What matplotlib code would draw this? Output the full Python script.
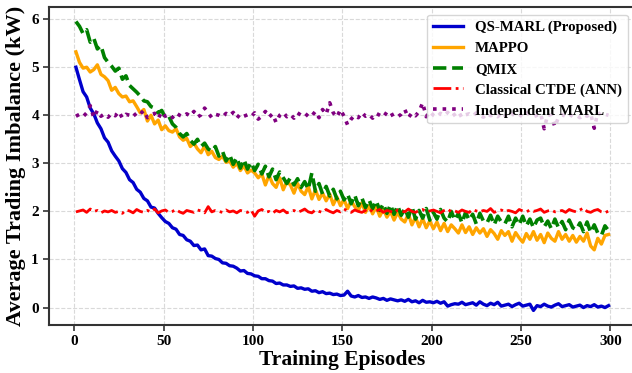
"""Average trading imbalance vs training episodes for five MARL variants."""
import matplotlib

matplotlib.use("Agg")
import matplotlib.pyplot as plt  # noqa: E402
import numpy as np  # noqa: E402

EPISODES = np.arange(1, 301, 2)

QS_MARL = [
    5.00, 4.74, 4.49, 4.38, 4.15, 4.03, 3.84, 3.72, 3.53, 3.44,
    3.26, 3.15, 3.05, 2.89, 2.81, 2.66, 2.60, 2.46, 2.40, 2.27,
    2.22, 2.09, 2.07, 1.96, 1.87, 1.79, 1.75, 1.66, 1.63, 1.52,
    1.50, 1.41, 1.38, 1.29, 1.30, 1.20, 1.22, 1.08, 1.07, 1.02,
    1.00, 0.93, 0.92, 0.87, 0.86, 0.82, 0.76, 0.77, 0.71, 0.70,
    0.66, 0.65, 0.60, 0.60, 0.56, 0.55, 0.50, 0.51, 0.47, 0.47,
    0.44, 0.45, 0.40, 0.41, 0.38, 0.39, 0.34, 0.35, 0.31, 0.33,
    0.29, 0.30, 0.27, 0.28, 0.25, 0.26, 0.34, 0.24, 0.22, 0.25,
    0.21, 0.22, 0.19, 0.22, 0.20, 0.17, 0.19, 0.15, 0.18, 0.16,
    0.14, 0.16, 0.13, 0.17, 0.12, 0.14, 0.10, 0.15, 0.11, 0.12,
    0.10, 0.13, 0.09, 0.12, 0.03, 0.06, 0.08, 0.07, 0.11, 0.06,
    0.08, 0.10, 0.05, 0.12, 0.07, 0.04, 0.09, 0.06, 0.11, 0.03,
    0.05, 0.07, 0.02, 0.06, 0.09, 0.03, 0.05, 0.07, -0.06, 0.04,
    0.02, 0.07, 0.03, 0.01, 0.05, 0.08, 0.02, 0.04, 0.06, 0.01,
    0.03, 0.05, 0.00, 0.04, 0.02, 0.06, 0.01, 0.03, 0.00, 0.04,
]
MAPPO = [
    5.32, 5.10, 4.98, 5.00, 4.90, 4.95, 5.05, 4.85, 4.80, 4.72,
    4.52, 4.58, 4.45, 4.38, 4.40, 4.28, 4.30, 4.18, 4.05, 4.12,
    3.88, 4.00, 3.82, 3.90, 3.70, 3.78, 3.68, 3.65, 3.72, 3.55,
    3.48, 3.52, 3.35, 3.42, 3.30, 3.22, 3.36, 3.18, 3.25, 3.12,
    3.08, 3.15, 3.02, 3.05, 2.92, 3.00, 2.85, 2.95, 2.80, 2.86,
    2.80, 2.70, 2.78, 2.55, 2.75, 2.58, 2.50, 2.70, 2.45, 2.62,
    2.55, 2.38, 2.58, 2.42, 2.35, 2.52, 2.26, 2.45, 2.25, 2.38,
    2.22, 2.36, 2.14, 2.30, 2.12, 2.25, 2.06, 2.22, 2.10, 2.02,
    2.18, 1.98, 2.12, 1.95, 2.10, 1.90, 2.05, 1.88, 2.00, 1.82,
    1.98, 1.84, 1.78, 1.95, 1.72, 1.88, 1.68, 1.85, 1.66, 1.80,
    1.64, 1.78, 1.60, 1.75, 1.58, 1.72, 1.64, 1.55, 1.72, 1.56,
    1.68, 1.52, 1.66, 1.55, 1.64, 1.48, 1.62, 1.54, 1.42, 1.60,
    1.50, 1.58, 1.38, 1.56, 1.45, 1.36, 1.54, 1.42, 1.58, 1.40,
    1.52, 1.35, 1.55, 1.44, 1.38, 1.58, 1.42, 1.52, 1.38, 1.50,
    1.36, 1.48, 1.38, 1.55, 1.28, 1.20, 1.44, 1.32, 1.50, 1.52,
]
QMIX = [
    5.95, 5.85, 5.70, 5.78, 5.52, 5.60, 5.38, 5.45, 5.20, 5.10,
    5.02, 4.92, 4.98, 4.75, 4.82, 4.62, 4.55, 4.48, 4.40, 4.30,
    4.28, 4.18, 4.15, 4.05, 4.10, 3.95, 3.98, 3.82, 3.75, 3.62,
    3.55, 3.62, 3.48, 3.40, 3.50, 3.35, 3.42, 3.30, 3.25, 3.35,
    3.15, 3.25, 3.05, 3.18, 2.98, 3.12, 2.90, 3.08, 2.88, 3.02,
    2.85, 2.98, 2.78, 2.94, 2.72, 2.88, 2.66, 2.82, 2.70, 2.58,
    2.70, 2.55, 2.68, 2.50, 2.62, 2.46, 2.80, 2.42, 2.58, 2.36,
    2.52, 2.32, 2.46, 2.26, 2.42, 2.24, 2.36, 2.16, 2.34, 2.12,
    2.28, 2.08, 2.24, 2.06, 2.22, 2.02, 2.16, 1.96, 2.14, 1.94,
    2.12, 1.92, 2.06, 1.88, 2.10, 1.84, 2.02, 1.86, 2.06, 1.82,
    1.98, 1.84, 2.04, 1.86, 1.78, 2.00, 1.82, 1.96, 1.76, 1.98,
    1.82, 1.94, 1.74, 1.96, 1.80, 1.76, 1.92, 1.72, 1.90, 1.78,
    1.74, 1.90, 1.68, 1.86, 1.72, 1.90, 1.70, 1.84, 1.66, 1.82,
    1.86, 1.68, 1.80, 1.64, 1.84, 1.66, 1.79, 1.62, 1.82, 1.66,
    1.62, 1.76, 1.58, 1.78, 1.56, 1.72, 1.55, 1.50, 1.70, 1.60,
]
CTDE_ANN = [
    1.99, 2.01, 2.03, 1.98, 2.05, 2.00, 2.02, 1.97, 2.01, 1.99,
    2.02, 1.98, 2.00, 1.96, 2.03, 2.01, 1.97, 2.04, 2.00, 1.98,
    2.02, 1.99, 2.05, 1.97, 2.01, 2.03, 1.98, 2.00, 2.04, 1.99,
    1.96, 2.02, 2.00, 1.98, 2.03, 2.01, 1.97, 2.10, 1.99, 2.02,
    2.00, 1.98, 2.03, 1.99, 2.01, 1.97, 2.02, 2.00, 1.98, 2.03,
    1.90, 2.01, 2.04, 1.98, 2.00, 1.96, 2.02, 1.99, 2.03, 1.97,
    2.00, 2.02, 1.98, 2.01, 2.05, 1.99, 1.97, 2.03, 2.00, 1.98,
    2.04, 2.00, 1.97, 2.02, 1.99, 2.05, 2.01, 1.98, 2.03, 2.00,
    1.98, 2.02, 2.06, 1.99, 2.01, 2.04, 1.98, 2.02, 2.00, 1.97,
    2.03, 2.01, 1.99, 2.05, 2.00, 1.98, 2.02, 2.04, 1.99, 2.01,
    2.03, 2.00, 1.97, 2.02, 2.05, 1.99, 2.01, 1.98, 2.03, 2.00,
    1.98, 2.04, 2.01, 1.99, 2.02, 2.00, 2.06, 1.98, 2.01, 2.03,
    1.99, 2.02, 2.00, 1.97, 2.04, 2.01, 1.99, 2.03, 2.00, 2.02,
    2.05, 1.98, 2.01, 2.03, 1.99, 2.00, 2.02, 1.98, 2.04, 2.01,
    1.99, 2.03, 2.07, 2.00, 1.98, 2.02, 2.04, 1.99, 1.97, 2.01,
]
INDEP_MARL = [
    3.98, 4.02, 3.97, 4.05, 4.20, 3.95, 4.10, 3.98, 4.03, 3.96,
    4.04, 3.99, 4.08, 3.94, 4.02, 4.00, 4.06, 3.97, 4.03, 4.10,
    3.95, 4.00, 4.04, 3.93, 4.07, 3.98, 4.02, 3.95, 4.05, 4.00,
    3.97, 4.03, 3.98, 4.08, 3.96, 4.01, 4.15, 4.05, 3.95, 4.02,
    4.00, 3.96, 4.04, 3.99, 4.06, 3.94, 4.03, 3.98, 4.01, 3.97,
    4.05, 3.92, 3.98, 4.08, 3.96, 4.03, 3.85, 4.00, 4.06, 3.97,
    4.02, 3.94, 4.05, 4.00, 3.96, 4.04, 3.99, 4.08, 3.95, 4.12,
    4.02, 4.26, 4.05, 3.96, 4.12, 3.98, 3.80, 3.92, 4.00, 3.95,
    4.06, 3.98, 4.02, 3.94, 4.04, 4.00, 3.96, 4.07, 3.99, 4.03,
    3.97, 4.02, 4.12, 3.95, 4.05, 3.99, 4.08, 4.26, 3.97, 4.08,
    4.00, 3.96, 4.04, 3.99, 4.06, 3.97, 4.02, 4.08, 3.95, 4.01,
    4.03, 3.98, 4.05, 4.00, 3.96, 4.04, 3.99, 4.02, 3.97, 4.06,
    4.00, 3.95, 4.03, 3.98, 4.02, 3.96, 4.05, 4.01, 3.97, 4.00,
    4.04, 3.72, 4.02, 3.99, 3.76, 3.96, 4.01, 3.98, 4.03, 3.97,
    4.00, 3.95, 4.02, 3.98, 4.04, 3.73, 4.06, 3.99, 4.02, 4.00,
]

SERIES = [
    ("QS-MARL (Proposed)", QS_MARL, "#0000cc", "-", 2.4),
    ("MAPPO", MAPPO, "orange", "-", 2.4),
    ("QMIX", QMIX, "green", "--", 2.6),
    ("Classical CTDE (ANN)", CTDE_ANN, "red", "-.", 2.0),
    ("Independent MARL", INDEP_MARL, "purple", ":", 2.6),
]


def main() -> None:
    plt.rcParams["font.family"] = ["Liberation Serif", "DejaVu Serif"]
    plt.rcParams["font.weight"] = "bold"
    fig, ax = plt.subplots(figsize=(6.32, 3.73), dpi=100)
    fig.subplots_adjust(left=0.078, right=1.005, bottom=0.129, top=0.981)

    for label, vals, color, ls, lw in SERIES:
        ax.plot(EPISODES, vals, ls, color=color, lw=lw, label=label)

    ax.set_xticks([0, 50, 100, 150, 200, 250, 300])
    ax.set_yticks([0, 1, 2, 3, 4, 5, 6])
    ax.grid(True, ls="--", color="0.85", lw=0.8)
    for sp in ax.spines.values():
        sp.set_color("#333333")
        sp.set_linewidth(1.5)
    ax.tick_params(labelsize=11, color="#333333", width=1.2, length=4)
    for t in ax.get_xticklabels() + ax.get_yticklabels():
        t.set_fontweight("bold")
    ax.set_xlabel("Training Episodes", fontsize=15.5, fontweight="bold", labelpad=1)
    ax.set_ylabel("Average Trading Imbalance (kW)", fontsize=16, fontweight="bold", labelpad=4)
    ax.legend(loc="upper right", prop={"weight": "bold", "size": 10.7},
              framealpha=0.8, edgecolor="0.8", handlelength=2.0, borderaxespad=0.5)
    fig.savefig("out.png", dpi=100)


if __name__ == "__main__":
    main()
